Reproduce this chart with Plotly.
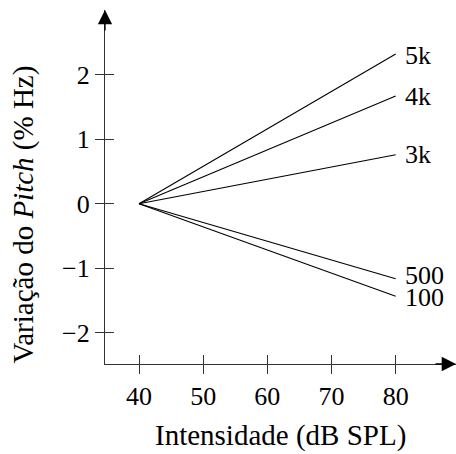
import plotly.graph_objects as go

intensity = [40, 80]
series_names = ["5k", "4k", "3k", "500", "100"]
series_values = {
    "5k": [0, 2.32],
    "4k": [0, 1.67],
    "3k": [0, 0.76],
    "500": [0, -1.16],
    "100": [0, -1.43],
}
label_yshift = {"5k": -2, "4k": -1, "3k": 0, "500": 3, "100": -1}
x_ticks = [40, 50, 60, 70, 80]
y_ticks = [-2, -1, 0, 1, 2]

FONT = "Liberation Serif"
FS = 26
FS_TITLE = 29
XR = [34.7, 89.4]
YR = [-2.48, 3.0]

fig = go.Figure()
for name in series_names:
    fig.add_trace(go.Scatter(x=intensity, y=series_values[name], mode="lines",
                             line=dict(color="black", width=1.1), showlegend=False,
                             hoverinfo="skip"))
    fig.add_annotation(x=intensity[-1], y=series_values[name][-1], text=name,
                       showarrow=False, xanchor="left", yanchor="middle", xshift=7,
                       yshift=label_yshift[name],
                       font=dict(family=FONT, size=FS, color="black"))

# dummy trace to attach overlay axes (inside ticks)
fig.add_trace(go.Scatter(x=[None], y=[None], xaxis="x2", yaxis="y2", showlegend=False))

tickfont = dict(family=FONT, size=FS, color="black")
axis_common = dict(showgrid=False, zeroline=False, linecolor="#333", linewidth=1.3,
                   tickcolor="#333", tickwidth=1.3, ticklen=9)
fig.update_layout(
    width=456, height=454,
    margin=dict(l=105, r=0, t=10, b=90),
    plot_bgcolor="white", paper_bgcolor="white",
    font=dict(family=FONT, size=FS, color="black"),
    xaxis=dict(range=XR, tickvals=x_ticks, ticks="outside", showline=True,
               anchor="y", tickfont=tickfont, **axis_common),
    yaxis=dict(range=YR, tickvals=y_ticks, ticks="outside", showline=True,
               anchor="x", tickfont=tickfont, **axis_common),
    xaxis2=dict(range=XR, tickvals=x_ticks, ticks="inside", showticklabels=False,
                overlaying="x", anchor="y", side="bottom", showline=False,
                **axis_common),
    yaxis2=dict(range=YR, tickvals=y_ticks, ticks="inside", showticklabels=False,
                overlaying="y", anchor="x", side="left", showline=False,
                **axis_common),
)

# axis arrowheads
fig.add_annotation(x=XR[1], y=YR[0], xref="x", yref="y", ax=-22, ay=0,
                   axref="pixel", ayref="pixel", showarrow=True, arrowhead=2,
                   arrowsize=2.2, arrowwidth=1.3, arrowcolor="black", text="")
fig.add_annotation(x=XR[0], y=YR[1], xref="x", yref="y", ax=0, ay=22,
                   axref="pixel", ayref="pixel", showarrow=True, arrowhead=2,
                   arrowsize=2.2, arrowwidth=1.3, arrowcolor="black", text="")

# axis titles
fig.add_annotation(x=0.5, y=-0.203, xref="paper", yref="paper",
                   text="Intensidade (dB SPL)", showarrow=False,
                   xanchor="center", yanchor="middle",
                   font=dict(family=FONT, size=FS_TITLE, color="black"))
fig.add_annotation(x=-0.232, y=0.421, xref="paper", yref="paper",
                   text="Variação do <i>Pitch</i> (% Hz)", showarrow=False,
                   textangle=-90, xanchor="center", yanchor="middle",
                   font=dict(family=FONT, size=FS_TITLE, color="black"))

fig.write_html("out.html", post_script="document.body.style.margin='0';",
               config={"displayModeBar": False})
